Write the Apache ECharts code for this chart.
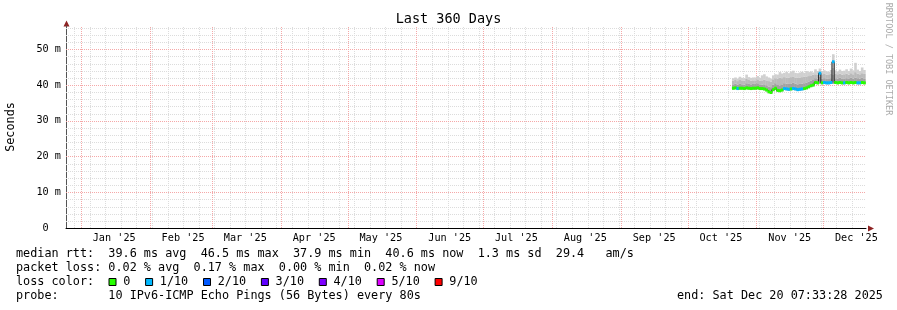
<!DOCTYPE html>
<html>
<head>
<meta charset="utf-8">
<title>Last 360 Days</title>
<script src="https://cdn.jsdelivr.net/npm/echarts@6/dist/echarts.min.js"></script>
<style>
html, body { margin: 0; padding: 0; background: #fff; }
#chart { width: 897px; height: 310px; }
</style>
</head>
<body>
<div id="chart"></div>
<script>
// smokeping style latency graph, last 360 days

const MONO = 'DejaVu Sans Mono';
const DAY = 24 * 3600 * 1000;

const endTime = Date.UTC(2025, 11, 20, 7, 33, 28);
const startTime = endTime - 360 * DAY;
const firstSample = Date.UTC(2025, 9, 21); // one sample per day from Oct 21

// x axis: month boundaries and labels (labels sit mid-month)
const monthStarts = [
    '2025-01-01', '2025-02-01', '2025-03-01', '2025-04-01', '2025-05-01', '2025-06-01',
    '2025-07-01', '2025-08-01', '2025-09-01', '2025-10-01', '2025-11-01', '2025-12-01'
];
const monthLabels = ["Jan '25", "Feb '25", "Mar '25", "Apr '25", "May '25", "Jun '25",
    "Jul '25", "Aug '25", "Sep '25", "Oct '25", "Nov '25", "Dec '25"];
const firstSunday = '2024-12-29';

// y axis (milliseconds)
const yMax = 56.5;
const yMajor = [10, 20, 30, 40, 50];
const yMinorStep = 2;

// median rtt per day (ms), Oct 21 .. Dec 19
const median = [
    39.1, 39.2, 39.0, 39.1, 39.1, 39.0, 39.2, 39.1, 39.0, 39.1,
    39.1, 39.2, 39.0, 39.0, 38.9, 38.6, 38.1, 37.9, 38.7, 39.1,
    38.5, 38.4, 38.6, 39.0, 38.9, 38.8, 38.9, 39.0, 38.9, 38.7,
    38.8, 38.9, 39.0, 39.2, 39.5, 39.8, 40.0, 40.7, 40.6, 43.3,
    40.6, 40.7, 40.6, 40.6, 40.7, 46.5, 40.7, 40.6, 40.7, 40.6,
    40.6, 40.7, 40.6, 40.7, 40.6, 40.7, 40.6, 40.6, 40.7, 40.6
];
// loss per day in tenths (selects the median colour)
const loss = [
    0, 0, 1, 0, 0, 0, 0, 0, 0, 0,
    0, 0, 0, 0, 0, 0, 0, 0, 0, 0,
    0, 0, 0, 1, 1, 1, 0, 1, 1, 1,
    1, 1, 0, 0, 0, 0, 0, 0, 0, 1,
    0, 1, 1, 1, 1, 1, 0, 0, 0, 0,
    1, 0, 0, 0, 0, 0, 1, 1, 0, 0
];
// smoke: lowest ping, upper edge of dense band, 90th pct, highest ping
const smokeMin = [
    38.7, 38.8, 38.6, 38.7, 38.7, 38.6, 38.8, 38.7, 38.6, 38.7,
    38.7, 38.8, 38.6, 38.6, 38.5, 38.2, 37.7, 37.5, 38.3, 38.7,
    38.1, 38.0, 38.2, 38.6, 38.5, 38.4, 38.5, 38.6, 38.5, 38.3,
    38.4, 38.5, 38.6, 38.8, 39.1, 39.4, 39.6, 40.3, 40.2, 40.3,
    40.2, 40.3, 40.2, 40.2, 40.3, 40.3, 40.3, 40.2, 40.3, 40.2,
    40.2, 40.3, 40.2, 40.3, 40.2, 40.3, 40.2, 40.2, 40.3, 40.2
];
const smokeMid = [
    40.2, 40.4, 40.1, 40.3, 40.2, 40.1, 40.5, 40.3, 40.2, 40.3,
    40.3, 40.5, 40.2, 40.1, 40.2, 39.9, 39.6, 39.4, 40.1, 40.5,
    40.0, 39.9, 40.2, 40.5, 40.4, 40.3, 40.4, 40.6, 40.4, 40.2,
    40.3, 40.4, 40.5, 40.7, 41.0, 41.2, 41.4, 41.9, 41.8, 42.4,
    41.8, 41.9, 41.8, 41.7, 41.9, 43.0, 41.9, 41.8, 42.0, 41.8,
    41.8, 41.9, 41.7, 42.0, 41.8, 42.1, 41.9, 41.8, 42.0, 41.8
];
const smokeP90 = [
    41.2, 41.4, 41.1, 41.4, 41.3, 41.2, 41.7, 41.4, 41.2, 41.3,
    41.3, 41.6, 41.2, 41.3, 41.5, 41.3, 41.1, 40.9, 41.6, 41.9,
    41.8, 42.0, 41.9, 42.2, 42.1, 42.0, 42.2, 42.4, 42.1, 42.0,
    42.1, 42.2, 42.3, 42.4, 42.5, 42.7, 42.9, 43.0, 42.9, 43.3,
    43.0, 43.1, 42.9, 42.8, 43.1, 44.8, 43.1, 43.0, 43.2, 42.9,
    43.0, 43.2, 42.9, 43.3, 43.0, 43.6, 43.2, 43.0, 43.3, 43.1
];
const smokeMax = [
    41.9, 42.1, 41.8, 42.3, 42.0, 41.9, 42.9, 42.2, 42.0, 42.1,
    42.1, 42.5, 42.0, 42.7, 43.0, 42.4, 42.1, 41.8, 42.7, 43.0,
    42.9, 43.6, 43.2, 43.4, 43.7, 43.3, 43.8, 44.0, 43.4, 43.3,
    43.5, 43.7, 43.4, 43.9, 43.6, 43.8, 43.5, 44.4, 43.9, 44.6,
    43.9, 44.1, 43.8, 43.7, 44.2, 48.6, 44.1, 43.8, 44.3, 43.9,
    44.0, 44.4, 43.9, 44.6, 44.1, 46.2, 44.3, 43.9, 44.9, 44.2
];

// loss legend
const lossLabels = ['0', '1/10', '2/10', '3/10', '4/10', '5/10', '9/10'];
const lossColors = ['#26ff00', '#00b8ff', '#0059ff', '#5e00ff', '#7e00ff', '#dd00ff', '#ff0000'];
const smokeColors = ['#a2a2a2', '#bababa', '#d0d0d0'];

const statLines = [
    'median rtt:  39.6 ms avg  46.5 ms max  37.9 ms min  40.6 ms now  1.3 ms sd  29.4   am/s',
    'packet loss: 0.02 % avg  0.17 % max  0.00 % min  0.02 % now'
];
const probeLine = 'probe:       10 IPv6-ICMP Echo Pings (56 Bytes) every 80s';
const endLine = 'end: Sat Dec 20 07:33:28 2025';

function lossColor(tenths) {
    if (tenths >= 9) return lossColors[6];
    return lossColors[Math.min(tenths, 5)];
}

const chart = echarts.init(document.getElementById('chart'), null, { renderer: 'canvas' });

// grid lines, drawn on whole pixels so the dots stay crisp
const minorColor = '#dcdcdc';
const majorColor = '#f5a8a8';
const vGrid = [];
for (let t = Date.parse(firstSunday); t < endTime; t += 7 * DAY) vGrid.push([t, 0]);
monthStarts.forEach((d) => vGrid.push([Date.parse(d), 1]));
const hGrid = [];
for (let v = yMinorStep; v < yMax; v += yMinorStep) {
    if (v % 10 !== 0) hGrid.push([v, 0]);
}
yMajor.forEach((v) => hGrid.push([v, 1]));

const dayTime = (i) => firstSample + i * DAY;
const smokeData = median.map((_, i) => [dayTime(i), smokeMin[i], smokeMid[i], smokeP90[i], smokeMax[i]]);
const medianData = median.map((v, i) => [dayTime(i), v, loss[i]]);
const medianLine = median.map((v, i) => [dayTime(i), v]);
medianLine.push([dayTime(median.length), median[median.length - 1]]);
const labelData = monthStarts.map((d) => [Date.parse(d) + 15 * DAY, 0]);

const LEG = 11.8;
const textStyle = (size) => ({ fontFamily: MONO, fontSize: size, fill: '#000' });
const graphics = [];
statLines.forEach((s, k) => {
    graphics.push({ type: 'text', x: 16, y: 254 + k * 14, style: { ...textStyle(LEG), text: s, verticalAlign: 'middle' } });
});
graphics.push({ type: 'text', x: 16, y: 282, style: { ...textStyle(LEG), text: 'loss color:', verticalAlign: 'middle' } });
let lx = 108.5;
lossLabels.forEach((lab, k) => {
    graphics.push({ type: 'rect', shape: { x: lx + 0.5, y: 278.5, width: 7, height: 7 },
        style: { fill: lossColors[k], stroke: '#000', lineWidth: 1 } });
    graphics.push({ type: 'text', x: lx + 14.7, y: 282, style: { ...textStyle(LEG), text: lab, verticalAlign: 'middle' } });
    lx = lx + 14.7 + lab.length * 7.1 + 14.8;
});
graphics.push({ type: 'text', x: 16, y: 296, style: { ...textStyle(LEG), text: probeLine, verticalAlign: 'middle' } });
graphics.push({ type: 'text', x: 677, y: 296, style: { ...textStyle(LEG), text: endLine, verticalAlign: 'middle' } });
graphics.push({ type: 'text', x: 11, y: 127, rotation: Math.PI / 2,
    style: { ...textStyle(LEG), text: 'Seconds', align: 'center', verticalAlign: 'middle' } });
graphics.push({ type: 'text', x: 888, y: 59, rotation: -Math.PI / 2,
    style: { fontFamily: MONO, fontSize: 8.5, fill: '#aaaaaa', text: 'RRDTOOL / TOBI OETIKER', align: 'center', verticalAlign: 'middle' } });
// axis arrows
graphics.push({ type: 'polygon', shape: { points: [[66.5, 20.5], [63.5, 26.5], [69.5, 26.5]] }, style: { fill: '#8e2323' } });
graphics.push({ type: 'polygon', shape: { points: [[874, 228.5], [868, 225.5], [868, 231.5]] }, style: { fill: '#8e2323' } });

const option = {
    animation: false,
    title: {
        text: 'Last 360 Days',
        left: 'center',
        top: 12,
        padding: 0,
        textStyle: { fontFamily: MONO, fontSize: 13.5, fontWeight: 'normal', color: '#000' }
    },
    grid: { left: 66, right: 31, top: 26, bottom: 82 },
    xAxis: {
        type: 'time',
        min: startTime,
        max: endTime,
        axisLine: { show: true, lineStyle: { color: '#000', width: 1 } },
        axisTick: { show: false },
        axisLabel: { show: false },
        splitLine: { show: false }
    },
    yAxis: {
        type: 'value',
        min: 0,
        max: yMax,
        interval: 10,
        axisLine: { show: true, lineStyle: { color: '#555', width: 1 } },
        axisTick: { show: false },
        splitLine: { show: false },
        axisLabel: {
            showMaxLabel: false,
            margin: 5,
            fontFamily: MONO,
            fontSize: 10.2,
            color: '#000',
            formatter: (v) => (v === 0 ? '0  ' : v + ' m')
        }
    },
    graphic: graphics,
    series: [
        {
            name: 'vertical grid',
            type: 'custom',
            z: 1,
            silent: true,
            data: vGrid,
            renderItem: (params, api) => {
                const x = Math.round(api.coord([api.value(0), 0])[0]) + 0.5;
                const yb = api.coord([api.value(0), 0])[1];
                const yt = api.coord([api.value(0), yMax])[1];
                return { type: 'line', shape: { x1: x, y1: yb, x2: x, y2: yt },
                    style: { stroke: api.value(1) ? majorColor : minorColor, lineWidth: 1, lineDash: [1, 1] },
                    z2: api.value(1) ? 2 : 1 };
            }
        },
        {
            name: 'horizontal grid',
            type: 'custom',
            z: 1,
            silent: true,
            data: hGrid,
            renderItem: (params, api) => {
                const y = Math.round(api.coord([startTime, api.value(0)])[1]) + 0.5;
                const xl = api.coord([startTime, 0])[0];
                const xr = api.coord([endTime, 0])[0];
                return { type: 'line', shape: { x1: xl, y1: y, x2: xr, y2: y },
                    style: { stroke: api.value(1) ? majorColor : minorColor, lineWidth: 1, lineDash: [1, 1] },
                    z2: api.value(1) ? 2 : 1 };
            }
        },
        {
            name: 'smoke',
            type: 'custom',
            z: 2,
            silent: true,
            data: smokeData,
            renderItem: (params, api) => {
                const t = api.value(0);
                const x0 = api.coord([t, 0])[0];
                const x1 = api.coord([t + DAY, 0])[0];
                const children = [];
                for (let k = 0; k < 3; k++) {
                    const yLo = api.coord([t, api.value(k + 1)])[1];
                    const yHi = api.coord([t, api.value(k + 2)])[1];
                    children.push({ type: 'rect', shape: { x: x0, y: yHi, width: x1 - x0 + 0.4, height: yLo - yHi },
                        style: { fill: smokeColors[k] } });
                }
                return { type: 'group', children };
            }
        },
        {
            name: 'median',
            type: 'line',
            z: 3,
            step: 'end',
            symbol: 'none',
            silent: true,
            data: medianLine,
            lineStyle: { color: '#202020', width: 1 }
        },
        {
            name: 'median loss',
            type: 'custom',
            z: 4,
            silent: true,
            data: medianData,
            renderItem: (params, api) => {
                const t = api.value(0);
                const p0 = api.coord([t, api.value(1)]);
                const x1 = api.coord([t + DAY, 0])[0];
                return { type: 'rect', shape: { x: p0[0], y: p0[1] - 1.5, width: x1 - p0[0] + 0.4, height: 3 },
                    style: { fill: lossColor(api.value(2)) } };
            }
        },
        {
            name: 'month labels',
            type: 'custom',
            z: 5,
            silent: true,
            clip: false,
            data: labelData,
            renderItem: (params, api) => {
                const p = api.coord([api.value(0), 0]);
                return { type: 'text', x: p[0], y: p[1] + 10,
                    style: { text: monthLabels[params.dataIndex], fontFamily: MONO, fontSize: 10.2, fill: '#000',
                        align: 'center', verticalAlign: 'middle' } };
            }
        }
    ]
};

chart.setOption(option);
</script>
</body>
</html>
